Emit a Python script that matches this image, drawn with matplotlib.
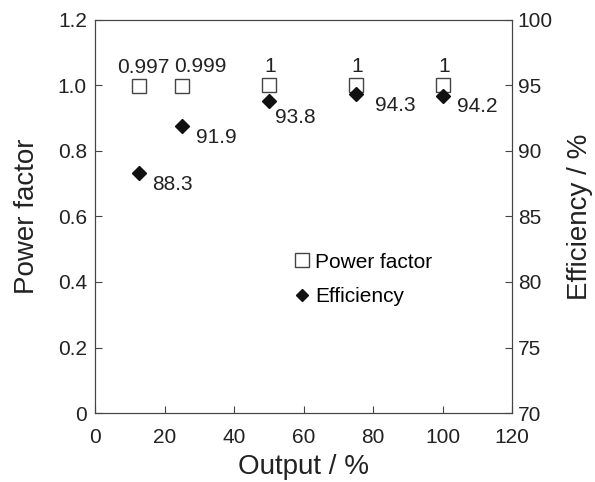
import matplotlib.pyplot as plt
from matplotlib.lines import Line2D

plt.rcParams['font.family'] = ['Liberation Sans', 'DejaVu Sans']

# Дані
output = [12.5, 25, 50, 75, 100]
power_factor = [0.997, 0.999, 1.0, 1.0, 1.0]
pf_labels = ['0.997', '0.999', '1', '1', '1']
efficiency = [88.3, 91.9, 93.8, 94.3, 94.2]
eff_labels = ['88.3', '91.9', '93.8', '94.3', '94.2']

fig = plt.figure(figsize=(5.95, 4.82), dpi=100)
ax = fig.add_axes([0.160, 0.143, 0.701, 0.816])
ax2 = ax.twinx()

col = '#444444'
txt = '#222222'
ax.plot(output, power_factor, 's', ms=10.5, mfc='white', mec=col, mew=1.0, zorder=3)
ax2.plot(output, efficiency, 'D', ms=7.5, color='#111111', zorder=4)

# Підписи значень
pf_offsets = [(3, 9.5), (13, 9.5), (1, 9.5), (1, 9.5), (1, 9.5)]
for x, y, t, off in zip(output, power_factor, pf_labels, pf_offsets):
    ax.annotate(t, (x, y), xytext=off, textcoords='offset points',
                ha='center', va='baseline', fontsize=15, color=txt)
eff_offsets = [(10, -12), (10, -12), (4, -16), (14, -12), (10, -12)]
for x, y, t, off in zip(output, efficiency, eff_labels, eff_offsets):
    ax2.annotate(t, (x, y), xytext=off, textcoords='offset points',
                 ha='left', va='baseline', fontsize=15, color=txt)

ax.set_xlim(0, 120)
ax.set_ylim(0, 1.2)
ax2.set_ylim(70, 100)
ax.set_xticks(range(0, 121, 20))
ax.set_yticks([0, 0.2, 0.4, 0.6, 0.8, 1.0, 1.2])
ax.set_yticklabels(['0', '0.2', '0.4', '0.6', '0.8', '1.0', '1.2'])
ax2.set_yticks(range(70, 101, 5))

for a in (ax, ax2):
    a.tick_params(direction='in', labelsize=15, length=5, color=col, labelcolor=txt)
    for s in a.spines.values():
        s.set_color(col)
ax.tick_params(axis='x', pad=11)
ax.tick_params(axis='y', pad=6)
ax2.tick_params(axis='y', pad=4)

ax.set_xlabel('Output / %', fontsize=20, color=txt, labelpad=5)
ax.set_ylabel('Power factor', fontsize=20, color=txt, labelpad=13)
ax2.set_ylabel('Efficiency / %', fontsize=20, color=txt, labelpad=10)

handles = [Line2D([], [], ls='none', marker='s', ms=10.5, mfc='white', mec=col, mew=1.0),
           Line2D([], [], ls='none', marker='D', ms=6.5, color='#111111')]
ax2.legend(handles, ['Power factor', 'Efficiency'], frameon=False, fontsize=15,
           loc='center left', bbox_to_anchor=(0.472, 0.34), handletextpad=0.1,
           handlelength=1.0, labelspacing=0.75, borderaxespad=0, borderpad=0)

fig.savefig('out.png', dpi=100)
